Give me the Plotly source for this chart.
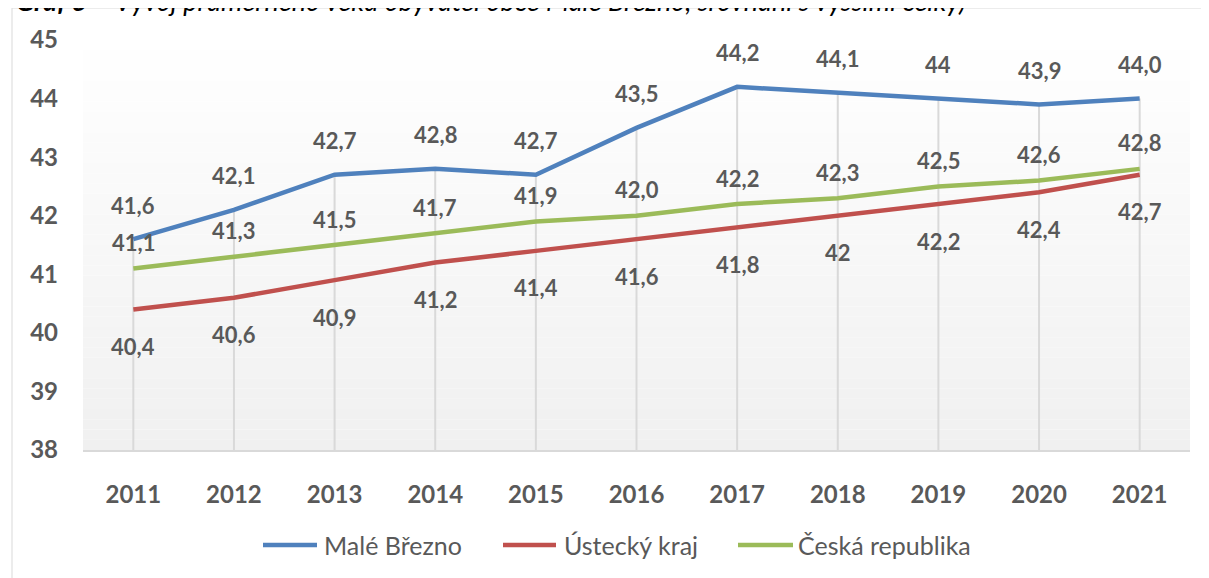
import plotly.graph_objects as go

years = ["2011", "2012", "2013", "2014", "2015", "2016", "2017", "2018", "2019", "2020", "2021"]
male_brezno = [41.6, 42.1, 42.7, 42.8, 42.7, 43.5, 44.2, 44.1, 44.0, 43.9, 44.0]
male_brezno_labels = ["41,6", "42,1", "42,7", "42,8", "42,7", "43,5", "44,2", "44,1", "44", "43,9", "44,0"]
ustecky_kraj = [40.4, 40.6, 40.9, 41.2, 41.4, 41.6, 41.8, 42.0, 42.2, 42.4, 42.7]
ustecky_labels = ["40,4", "40,6", "40,9", "41,2", "41,4", "41,6", "41,8", "42", "42,2", "42,4", "42,7"]
ceska_republika = [41.1, 41.3, 41.5, 41.7, 41.9, 42.0, 42.2, 42.3, 42.5, 42.6, 42.8]
ceska_labels = ["41,1", "41,3", "41,5", "41,7", "41,9", "42,0", "42,2", "42,3", "42,5", "42,6", "42,8"]
y_ticks = [38, 39, 40, 41, 42, 43, 44, 45]
series_names = ["Malé Březno", "Ústecký kraj", "Česká republika"]
colors = ["#4f81bd", "#c0504d", "#9bbb59"]
title_text = ("<b>Graf 3 – </b>Vývoj průměrného věku obyvatel obce Malé Březno, "
              "srovnání s vyššími celky)")

Y_MIN, Y_MAX = 38, 45
OFF = 8  # page body margin
PAGE_W, PAGE_H = 1209, 578
W, H = PAGE_W - OFF, PAGE_H - OFF
# plot area in page pixels: x 83..1190, y 40..450
PL, PR, PT, PB = 83, 1190, 40, 450
ML, MT = PL - OFF, PT - OFF
MR, MB = W - (PR - OFF), H - (PB - OFF)
PW, PH = PR - PL, PB - PT


def px_x(p):
    return (p - PL) / PW


def px_y(p):
    return (PB - p) / PH


GRAY = "#595959"
FONT = "Lato"

fig = go.Figure()

# plot-area gradient background (white at top to light gray at bottom)
n_bands = 40
for i in range(n_bands):
    y0 = i / n_bands
    y1 = (i + 1) / n_bands
    t = 1 - (y0 + y1) / 2  # 0 at top, 1 at bottom
    v = int(round(255 - 15 * t))
    fig.add_shape(type="rect", xref="paper", yref="paper", x0=0, x1=1, y0=y0, y1=y1,
                  fillcolor=f"rgb({v},{v},{v})", line_width=0, layer="below")

# drop lines from the top-most series to the axis
drop_x, drop_y = [], []
for i, yr in enumerate(years):
    top = max(male_brezno[i], ustecky_kraj[i], ceska_republika[i])
    drop_x += [yr, yr, None]
    drop_y += [Y_MIN, top, None]
fig.add_trace(go.Scatter(x=drop_x, y=drop_y, mode="lines",
                         line=dict(color="#d9d9d9", width=2), hoverinfo="skip",
                         showlegend=False))

series = [male_brezno, ustecky_kraj, ceska_republika]
labels = [male_brezno_labels, ustecky_labels, ceska_labels]
shifts = [34, -37, 26]
for name, vals, col in zip(series_names, series, colors):
    fig.add_trace(go.Scatter(x=years, y=vals, mode="lines", name=name,
                             line=dict(color=col, width=4.5), showlegend=False))

for vals, labs, sh in zip(series, labels, shifts):
    for idx, (v, lab) in enumerate(zip(vals, labs)):
        fig.add_annotation(x=idx, y=v, text=lab, showarrow=False, yshift=sh,
                           xanchor="center", yanchor="middle",
                           font=dict(family=FONT, size=22, color=GRAY, weight="bold"))

# manual legend
legend_y = px_y(545)
legend_items = [(263, 317, 322), (503, 556, 562), (738, 793, 796)]
for (lx0, lx1, tx), name, col in zip(legend_items, series_names, colors):
    fig.add_shape(type="line", xref="paper", yref="paper", x0=px_x(lx0), x1=px_x(lx1),
                  y0=legend_y, y1=legend_y, line=dict(color=col, width=4.5))
    fig.add_annotation(xref="paper", yref="paper", x=px_x(tx), y=legend_y, text=name,
                       showarrow=False, xanchor="left", yanchor="middle",
                       font=dict(family=FONT, size=25, color=GRAY))

# chart border
fig.add_shape(type="rect", xref="paper", yref="paper", x0=px_x(12), x1=px_x(PAGE_W + 20),
              y0=px_y(PAGE_H + 20), y1=px_y(8), line=dict(color="#d9d9d9", width=1),
              fillcolor="rgba(0,0,0,0)", layer="below")

# clipped title at top
fig.add_annotation(xref="paper", yref="paper", x=px_x(14), y=px_y(1), text=title_text,
                   showarrow=False, xanchor="left", yanchor="middle",
                   font=dict(family=FONT, size=27, color="#000000", style="italic"))

fig.update_layout(
    width=W, height=H,
    margin=dict(l=ML, r=MR, t=MT, b=MB),
    paper_bgcolor="white", plot_bgcolor="rgba(0,0,0,0)",
    showlegend=False,
    xaxis=dict(type="category", categoryorder="array", categoryarray=years,
               range=[-0.5, len(years) - 0.5], showgrid=False, zeroline=False,
               showline=True, linecolor="#d9d9d9", linewidth=1.5, ticks="",
               ticklabelstandoff=22,
               tickfont=dict(family=FONT, size=24, color=GRAY, weight="bold")),
    yaxis=dict(range=[Y_MIN, Y_MAX], tickvals=y_ticks, ticktext=[str(t) for t in y_ticks],
               showgrid=False, zeroline=False, showline=False, ticks="",
               ticklabelstandoff=24,
               tickfont=dict(family=FONT, size=24, color=GRAY, weight="bold")),
)

fig.write_html("out.html")
